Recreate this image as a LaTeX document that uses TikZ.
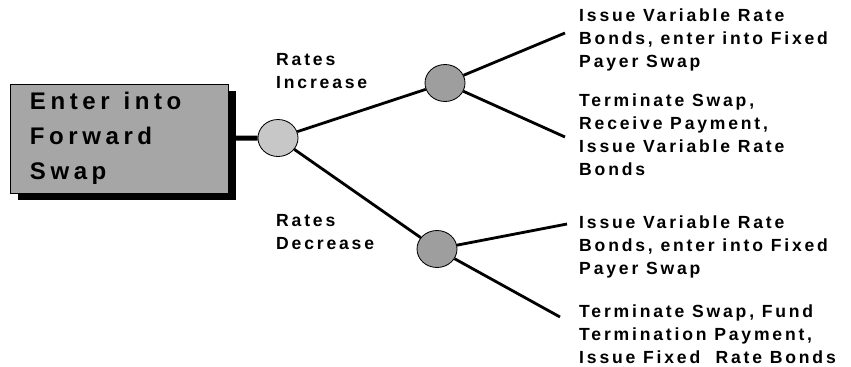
\documentclass[tikz,border=0pt]{standalone}
\usepackage{fontspec}
\newfontfamily\spaced[LetterSpace=16]{Liberation Sans}
\newfontfamily\spacedwide[LetterSpace=19]{Liberation Sans}
\usetikzlibrary{shapes.geometric,shadows}
\definecolor{boxgray}{gray}{0.65}
\definecolor{lightnode}{gray}{0.78}
\definecolor{darknode}{gray}{0.62}

\begin{document}
\begin{tikzpicture}[x=0.03cm,y=-0.03cm,
    outcome/.style={font=\spaced\bfseries\fontsize{15}{19.6}\selectfont,align=left,anchor=west,inner sep=0pt},
    chance/.style={draw,ellipse,line width=0.7pt,minimum width=1.2cm,minimum height=1.11cm,inner sep=0pt},
    branch/.style={line width=2.4pt}]
  \useasboundingbox (0,0) rectangle (851,366);

  \node[draw,line width=0.7pt,fill=boxgray,text width=5.34cm,inner xsep=0.6cm,minimum height=3.27cm,
    font=\spacedwide\bfseries\fontsize{20.5}{29.8}\selectfont,align=left,
    drop shadow={shadow xshift=0.24cm,shadow yshift=-0.21cm,fill=black,opacity=1}]
    (swap) at (119,138.5) {Enter\hspace{0.25em} into\\Forward\\Swap};
  \node[chance,fill=lightnode] (start) at (278,138) {};
  \node[chance,fill=darknode] (up) at (445,83) {};
  \node[chance,fill=darknode] (down) at (437,249) {};

  \draw[line width=4.2pt] (swap) -- (start);
  \draw[branch] (start) -- (up);
  \draw[branch] (start) -- (down);

  \node[outcome] (increase) at (276,71) {Rates\\Increase};
  \node[outcome] (decrease) at (276,232.5) {Rates\\Decrease};

  \def \Ends {
    upfix/up/565/33/40.3/{Issue Variable Rate\\Bonds, enter into Fixed\\Payer Swap},
    upterm/up/565/137/135/{Terminate Swap,\\Receive Payment,\\Issue Variable Rate\\Bonds},
    downfix/down/567/224/246.9/{Issue Variable Rate\\Bonds, enter into Fixed\\Payer Swap},
    downterm/down/560/317/334.5/{Terminate Swap, Fund\\Termination Payment,\\Issue Fixed\ \ Rate Bonds}}

  \foreach \id / \from / \x / \y / \ty / \txt in \Ends {
    \coordinate (\id) at (\x,\y);
    \node[outcome] (\id text) at (579,\ty) {\txt};
    \draw[branch] (\from) -- (\id);
  }
\end{tikzpicture}
\end{document}
